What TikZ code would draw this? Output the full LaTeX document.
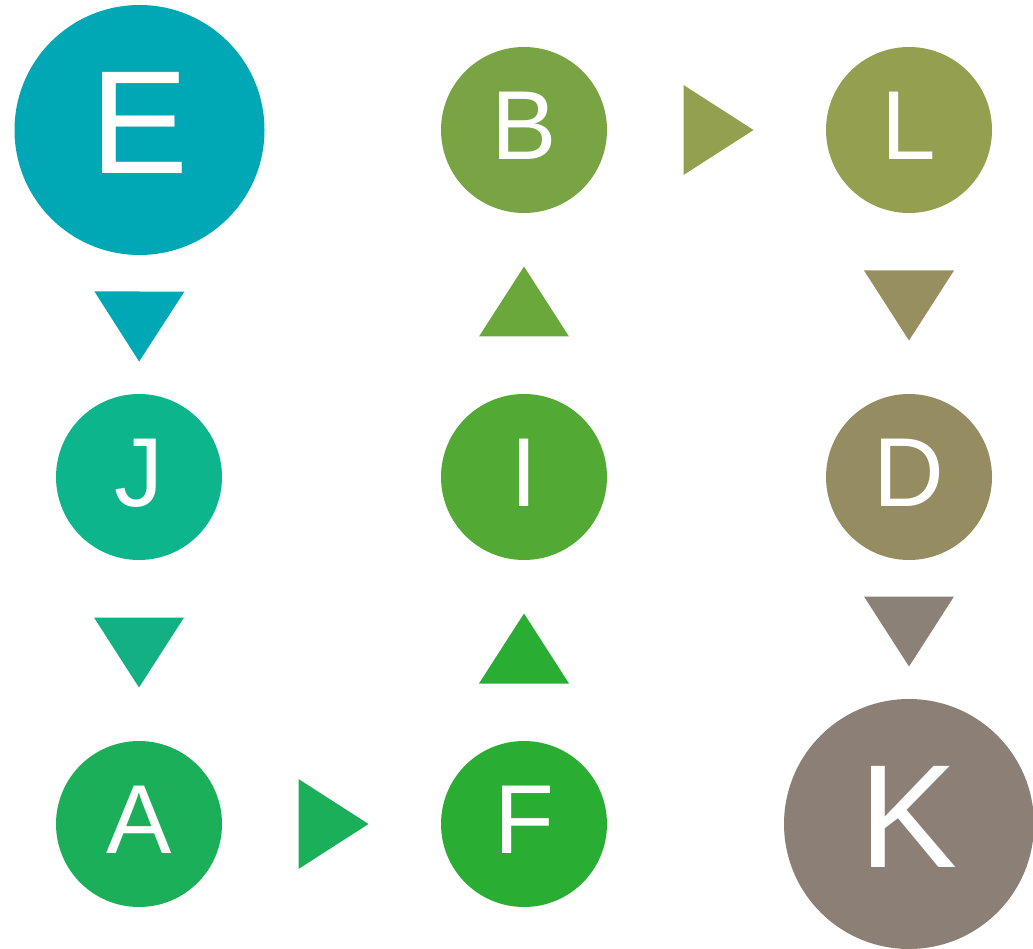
\documentclass[tikz,border=0pt]{standalone}
\usepackage{fontspec}
\setmainfont{Liberation Sans}
\usetikzlibrary{calc}
\definecolor{cE}{HTML}{00A7B5}
\definecolor{cJ}{HTML}{0DB58C}
\definecolor{cA}{HTML}{1BAF5A}
\definecolor{cF}{HTML}{2AAD33}
\definecolor{cI}{HTML}{52AA35}
\definecolor{cB}{HTML}{79A444}
\definecolor{cL}{HTML}{949F50}
\definecolor{cD}{HTML}{968C62}
\definecolor{cK}{HTML}{8C8076}
\definecolor{tEJ}{HTML}{00A7B5}
\definecolor{tJA}{HTML}{13B084}
\definecolor{tAF}{HTML}{1BAF5A}
\definecolor{tFI}{HTML}{2AAD33}
\definecolor{tIB}{HTML}{6AA83C}
\definecolor{tBL}{HTML}{92A050}
\definecolor{tLD}{HTML}{978F5F}
\definecolor{tDK}{HTML}{8C8177}
\tikzset{
  smallnode/.style={circle, inner sep=0pt, minimum size=166pt, text=white, text depth=9pt, font=\fontsize{98}{98}\selectfont},
  bignode/.style={circle, inner sep=0pt, minimum size=250pt, text=white, text depth=15pt, font=\fontsize{147}{147}\selectfont},
}
\newcommand{\arrowtri}[3]{%
  \coordinate (m0) at ($(#1)!0.5!(#2)$);
  \coordinate (m) at ($(m0)!2pt!(#2)$);
  \coordinate (tip) at ($(m)!35pt!(#2)$);
  \coordinate (bs) at ($(m)!-35pt!(#2)$);
  \fill[#3] (tip) -- ($(bs)!45pt!90:(tip)$) -- ($(bs)!45pt!-90:(tip)$) -- cycle;
}
\begin{document}
\begin{tikzpicture}[x=1pt,y=-1pt]
\useasboundingbox (0,0) rectangle (1033,949);
\node[bignode, fill=cE] (E) at (139.5,130) {E};
\node[smallnode, fill=cB] (B) at (524,130) {B};
\node[smallnode, fill=cL] (L) at (909,130) {L};
\node[smallnode, fill=cJ] (J) at (139,477) {J};
\node[smallnode, fill=cI] (I) at (524,477) {I};
\node[smallnode, fill=cD] (D) at (909,477) {D};
\node[smallnode, fill=cA] (A) at (139,824) {A};
\node[smallnode, fill=cF] (F) at (524,824) {F};
\node[bignode, fill=cK] (K) at (909,824) {K};
\arrowtri{E.south}{J.north}{tEJ}
\arrowtri{J.south}{A.north}{tJA}
\arrowtri{A.east}{F.west}{tAF}
\arrowtri{F.north}{I.south}{tFI}
\arrowtri{I.north}{B.south}{tIB}
\arrowtri{B.east}{L.west}{tBL}
\arrowtri{L.south}{D.north}{tLD}
\arrowtri{D.south}{K.north}{tDK}
\end{tikzpicture}
\end{document}
